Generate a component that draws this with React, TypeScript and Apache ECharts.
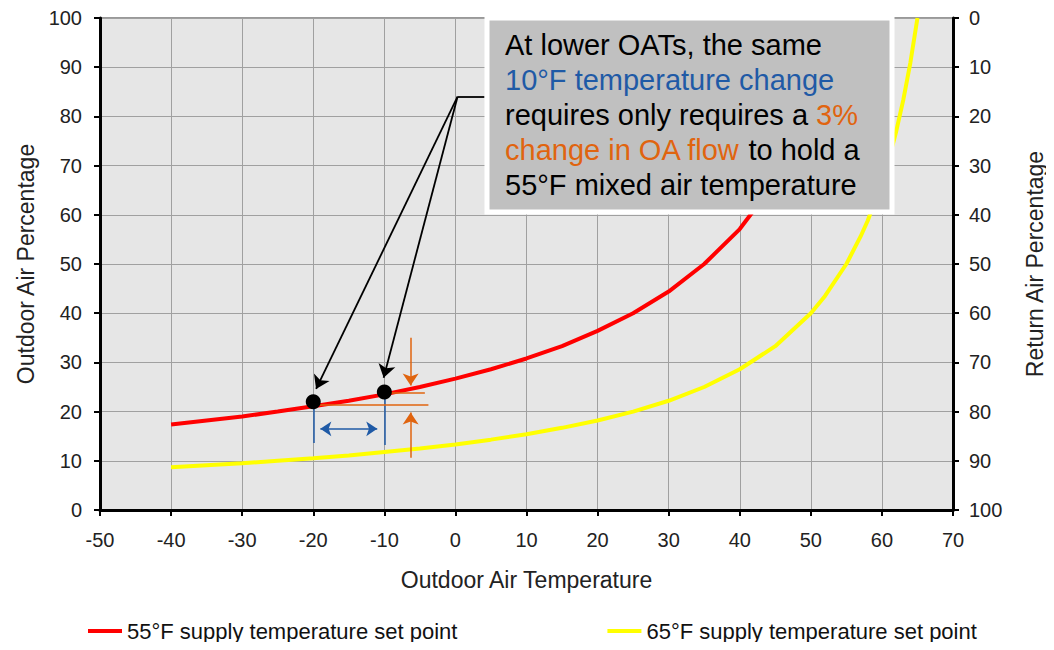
import React, { useEffect, useRef } from "react";
import * as echarts from "echarts";

// Outdoor air temperature (°F) vs outdoor air percentage
const oat55 = [-40, -35, -30, -25, -20, -15, -10, -5, 0, 5, 10, 15, 20, 25, 30, 35, 40, 45, 50, 55];
const oaPct55 = [17.4, 18.2, 19.0, 20.0, 21.1, 22.2, 23.5, 25.0, 26.7, 28.6, 30.8, 33.3, 36.4, 40.0, 44.4, 50.0, 57.1, 66.7, 80, 100];
const oat65 = [-40, -35, -30, -25, -20, -15, -10, -5, 0, 5, 10, 15, 20, 25, 30, 35, 40, 45, 50, 52, 55, 57, 58, 60, 61, 62, 63, 64, 65];
const oaPct65 = [8.7, 9.1, 9.5, 10.0, 10.5, 11.1, 11.8, 12.5, 13.3, 14.3, 15.4, 16.7, 18.2, 20.0, 22.2, 25.0, 28.6, 33.3, 40, 43.5, 50, 55.6, 58.8, 66.7, 71.4, 76.9, 83.3, 90.9, 100];

const seriesNames = ["55°F supply temperature set point", "65°F supply temperature set point"];

// annotation geometry (data coordinates)
const markedPoints = [[-20, 22], [-10, 24]];
const calloutFrom = [0.3, 84];
const calloutJoin = [4.1, 84];
const blackArrowEnds = [[-19.6, 24.6], [-10.1, 26.9]];
const blueTicks = [[[-20, 21.4], [-20, 13.6]], [[-10, 23.4], [-10, 13.2]]];
const blueSpan = [[-19, 16.5], [-11, 16.5]];
const orangeLevels = [[[-10, 23.8], [-4.3, 23.8]], [[-20, 21.3], [-3.8, 21.3]]];
const orangeArrows = [[[-6.3, 35], [-6.3, 25.3]], [[-6.3, 10.6], [-6.3, 19.8]]];

const xMin = -50, xMax = 70, step = 10;
const yMin = 0, yMax = 100;

const boxLines = [
  "{k|At lower OATs, the same}",
  "{b|10°F temperature change}",
  "{k|requires only requires a }{o|3%}",
  "{o|change in OA flow}{k| to hold a}",
  "{k|55°F mixed air temperature}",
];

const FONT = "'Liberation Sans', Arial, sans-serif";

export default function App() {
  const ref = useRef<HTMLDivElement>(null);
  useEffect(() => {
    if (!ref.current) return;
    const chart = echarts.init(ref.current, null, { renderer: "svg" });
    const pair = (xs: number[], ys: number[]) => xs.map((x, i) => [x, ys[i]]);
    const boxText = { fontSize: 29, fontFamily: FONT, lineHeight: 35 };
    chart.setOption({
      animation: false,
      backgroundColor: "#fff",
      textStyle: { fontFamily: FONT },
      grid: {
        left: 100, right: 94, top: 18, bottom: 140,
        show: true, backgroundColor: "#e6e6e6", borderColor: "#333", borderWidth: 1,
      },
      legend: {
        data: seriesNames,
        left: 83, top: 615,
        icon: "rect", itemWidth: 34, itemHeight: 4, itemGap: 150,
        textStyle: { fontSize: 22, color: "#111", fontFamily: FONT },
      },
      xAxis: {
        type: "value", min: xMin, max: xMax, interval: step,
        name: "Outdoor Air Temperature", nameLocation: "middle", nameGap: 58,
        nameTextStyle: { fontSize: 23, color: "#222", fontFamily: FONT },
        axisLine: { onZero: false, lineStyle: { color: "#000", width: 3 } },
        axisTick: { show: true, length: 6, lineStyle: { color: "#000", width: 2 } },
        axisLabel: { fontSize: 20, color: "#222", margin: 20 },
        splitLine: { show: true, lineStyle: { color: "#a0a0a0", width: 1 } },
      },
      yAxis: [
        {
          type: "value", min: yMin, max: yMax, interval: step, position: "left",
          name: "Outdoor Air Percentage", nameLocation: "middle", nameGap: 63,
          nameTextStyle: { fontSize: 23, color: "#222", fontFamily: FONT },
          axisLine: { show: true, onZero: false, lineStyle: { color: "#000", width: 3 } },
          axisTick: { show: true, length: 6, lineStyle: { color: "#000", width: 2 } },
          axisLabel: { fontSize: 20, color: "#222", margin: 18 },
          splitLine: { show: true, lineStyle: { color: "#a0a0a0", width: 1 } },
        },
        {
          type: "value", min: yMin, max: yMax, interval: step, position: "right", inverse: true,
          name: "Return Air Percentage", nameLocation: "middle", nameGap: 70,
          nameTextStyle: { fontSize: 23, color: "#222", fontFamily: FONT },
          axisLine: { show: true, onZero: false, lineStyle: { color: "#000", width: 3 } },
          axisTick: { show: true, length: 6, lineStyle: { color: "#000", width: 2 } },
          axisLabel: { fontSize: 20, color: "#222", margin: 16 },
          splitLine: { show: false },
        },
      ],
      series: [
        {
          name: seriesNames[0], type: "line", data: pair(oat55, oaPct55),
          smooth: false, showSymbol: false, symbol: "none",
          lineStyle: { color: "#ff0000", width: 4 }, itemStyle: { color: "#ff0000" }, z: 3,
        },
        {
          name: seriesNames[1], type: "line", data: pair(oat65, oaPct65),
          smooth: false, showSymbol: false, symbol: "none",
          lineStyle: { color: "#ffff00", width: 4 }, itemStyle: { color: "#ffff00" }, z: 3,
        },
        {
          type: "lines", coordinateSystem: "cartesian2d", z: 4,
          symbol: ["none", "none"],
          lineStyle: { color: "#000", width: 1.8, opacity: 1 },
          data: [{ coords: [calloutFrom, calloutJoin] }],
        },
        {
          type: "lines", coordinateSystem: "cartesian2d", z: 4,
          symbol: ["none", "arrow"], symbolSize: 13,
          lineStyle: { color: "#000", width: 1.8, opacity: 1 },
          data: blackArrowEnds.map((e) => ({ coords: [calloutFrom, e] })),
        },
        {
          type: "lines", coordinateSystem: "cartesian2d", z: 4,
          symbol: ["none", "none"],
          lineStyle: { color: "#1f5aa6", width: 1.5, opacity: 1 },
          data: blueTicks.map((c) => ({ coords: c })),
        },
        {
          type: "lines", coordinateSystem: "cartesian2d", z: 4,
          symbol: ["arrow", "arrow"], symbolSize: 11,
          lineStyle: { color: "#1f5aa6", width: 1.5, opacity: 1 },
          data: [{ coords: blueSpan }],
        },
        {
          type: "lines", coordinateSystem: "cartesian2d", z: 4,
          symbol: ["none", "none"],
          lineStyle: { color: "#e0640f", width: 1.5, opacity: 1 },
          data: orangeLevels.map((c) => ({ coords: c })),
        },
        {
          type: "lines", coordinateSystem: "cartesian2d", z: 4,
          symbol: ["none", "arrow"], symbolSize: 12,
          lineStyle: { color: "#e0640f", width: 1.5, opacity: 1 },
          data: orangeArrows.map((c) => ({ coords: c })),
        },
        {
          type: "scatter", data: markedPoints, symbolSize: 15, z: 5,
          itemStyle: { color: "#000", opacity: 1 },
        },
      ],
      graphic: [
        {
          type: "rect", z: 100,
          shape: { x: 487, y: 18, width: 405, height: 194 },
          style: { fill: "#c0c0c0", stroke: "#ffffff", lineWidth: 5 },
        },
        {
          type: "text", z: 101, x: 505, y: 27,
          style: {
            text: boxLines.join("\n"),
            fill: "#000", fontSize: 29, fontFamily: FONT, lineHeight: 35,
            verticalAlign: "top", align: "left",
            rich: {
              k: { ...boxText, fill: "#000" },
              b: { ...boxText, fill: "#1f5aa6" },
              o: { ...boxText, fill: "#e0640f" },
            },
          },
        },
      ],
    });
    return () => chart.dispose();
  }, []);
  return <div ref={ref} style={{ width: 1054, height: 650, margin: -8 }} />;
}
